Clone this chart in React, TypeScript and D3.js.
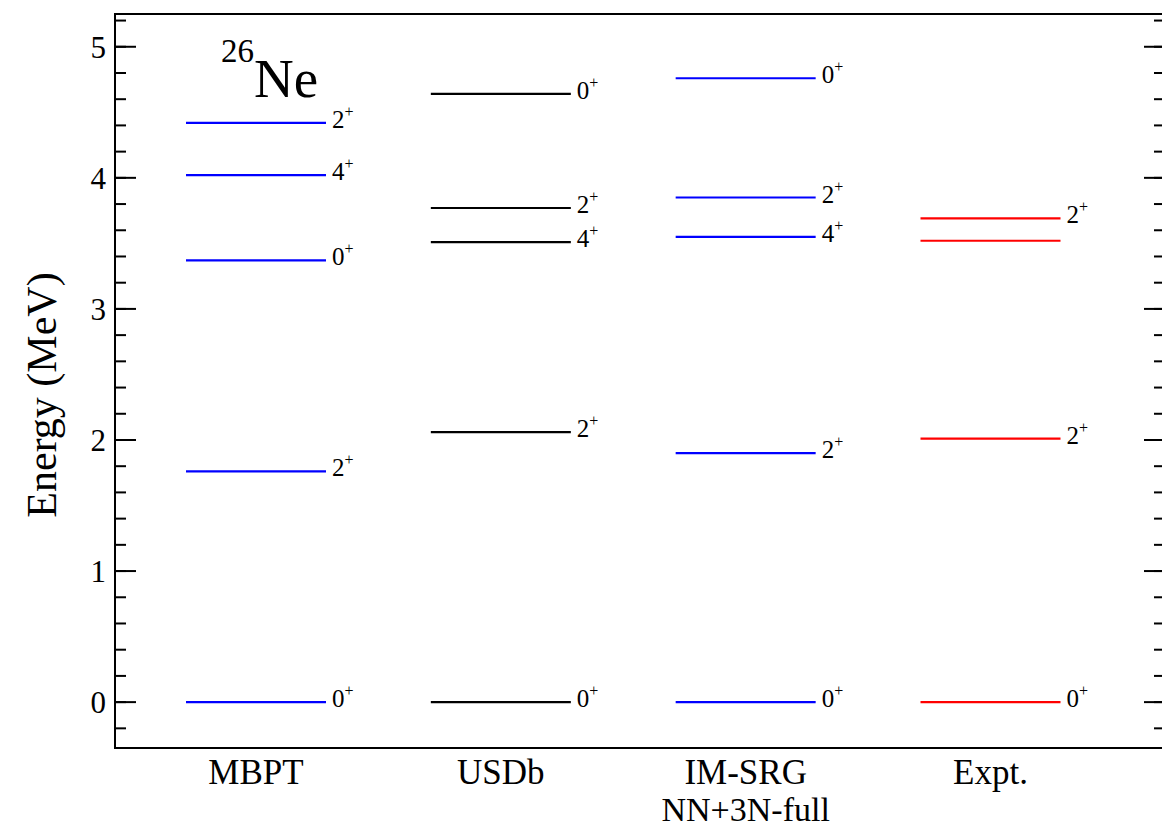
import React from "react";
import * as d3 from "d3";

const methods = ["MBPT", "USDb", "IM-SRG", "Expt."];
const methodSubtitles = ["", "", "NN+3N-full", ""];
const methodColors = ["#0000ff", "#000000", "#0000ff", "#ff0000"];

const mbptEnergies = [0, 1.76, 3.37, 4.02, 4.42];
const mbptSpins = ["0", "2", "0", "4", "2"];
const usdbEnergies = [0, 2.06, 3.51, 3.77, 4.64];
const usdbSpins = ["0", "2", "4", "2", "0"];
const imsrgEnergies = [0, 1.9, 3.55, 3.85, 4.76];
const imsrgSpins = ["0", "2", "4", "2", "0"];
const exptEnergies = [0, 2.01, 3.52, 3.69];
const exptSpins = ["0", "2", "", "2"];

const yTicks = [0, 1, 2, 3, 4, 5];
const yMinorTicks = d3.range(-0.2, 5.21, 0.2).map((v) => Math.round(v * 10) / 10);

const energies = [mbptEnergies, usdbEnergies, imsrgEnergies, exptEnergies];
const spins = [mbptSpins, usdbSpins, imsrgSpins, exptSpins];

const W = 1162;
const H = 830;
const left = 115;
const right = 1165;
const top = 14;
const bottom = 748;

const FONT =
  "'Liberation Serif', 'Times New Roman', Times, 'Nimbus Roman', FreeSerif, 'Noto Serif', Tinos, 'DejaVu Serif', serif";
const ts = { fontFamily: FONT };

export default function App() {
  const y = d3.scaleLinear().domain([-0.35, 5.25]).range([bottom, top]);
  const x = d3.scalePoint<string>().domain(methods).range([256, 990.5]);
  const half = 70;

  return (
    <svg
      width={W}
      height={H}
      style={{ position: "absolute", left: 0, top: 0, background: "#fff", fontFamily: FONT }}
    >
      <rect x={left} y={top} width={right - left} height={bottom - top} fill="none" stroke="#000" strokeWidth={2} />
      {yMinorTicks.map((t) => (
        <g key={"m" + t}>
          <line x1={left} x2={left + 11} y1={y(t)} y2={y(t)} stroke="#000" strokeWidth={2} />
          <line x1={right} x2={right - 11} y1={y(t)} y2={y(t)} stroke="#000" strokeWidth={2} />
        </g>
      ))}
      {yTicks.map((t) => (
        <g key={"t" + t}>
          <line x1={left} x2={left + 21} y1={y(t)} y2={y(t)} stroke="#000" strokeWidth={2} />
          <line x1={right} x2={right - 21} y1={y(t)} y2={y(t)} stroke="#000" strokeWidth={2} />
          <text x={106} y={y(t) + 11} textAnchor="end" fontSize={31} style={ts}>
            {t}
          </text>
        </g>
      ))}
      <text
        transform={`translate(56, ${(top + bottom) / 2 + 14}) rotate(-90)`}
        textAnchor="middle"
        fontSize={42}
        style={ts}
      >
        Energy (MeV)
      </text>
      <text x={221} y={97} fontSize={55} style={ts}>
        <tspan fontSize={33} dy={-35}>26</tspan>
        <tspan dy={35}>Ne</tspan>
      </text>
      {methods.map((m, i) => {
        const cx = x(m)!;
        return (
          <g key={m}>
            {energies[i].map((e, j) => (
              <g key={j}>
                <line x1={cx - half} x2={cx + half} y1={y(e)} y2={y(e)} stroke={methodColors[i]} strokeWidth={2.2} />
                {spins[i][j] && (
                  <text x={cx + half + 6} y={y(e) + 5} fontSize={25} style={ts}>
                    {spins[i][j]}
                    <tspan fontSize={16} dy={-11}>+</tspan>
                  </text>
                )}
              </g>
            ))}
            <text x={cx} y={784} textAnchor="middle" fontSize={35} style={ts}>
              {m}
            </text>
            {methodSubtitles[i] && (
              <text x={cx} y={821} textAnchor="middle" fontSize={34} style={ts}>
                {methodSubtitles[i]}
              </text>
            )}
          </g>
        );
      })}
    </svg>
  );
}
